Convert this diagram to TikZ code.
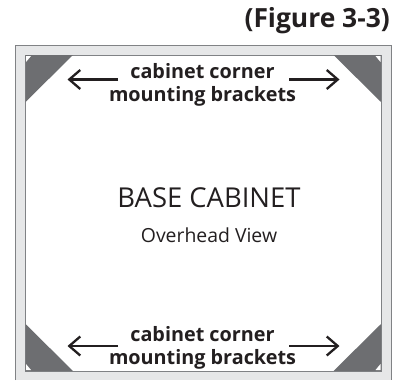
\documentclass[tikz,border=0pt]{standalone}
\usepackage{fontspec}
\setmainfont{Open Sans}
\usetikzlibrary{arrows.meta}
\definecolor{bandgray}{HTML}{E6E7E8}
\definecolor{edgegray}{HTML}{808285}
\definecolor{bracketgray}{HTML}{6D6E71}
\definecolor{inkblack}{HTML}{231F20}
\tikzset{
  x=1pt,y=-1pt,
  bracket/.style={fill=bracketgray,draw=none},
  notch/.style={fill=white,draw=none},
  pointer/.style={draw=inkblack,line width=2.3pt,-{Straight Barb[length=11pt,width=19pt,line width=2.3pt]}},
  lbl/.style={text=inkblack,font=\fontsize{19.8}{22.7}\selectfont\bfseries,align=center,inner sep=0pt},
}
\begin{document}
\begin{tikzpicture}
\useasboundingbox (0,0) rectangle (406,380);
\fill[white] (0,0) rectangle (406,380);
\fill[bandgray] (15.5,45.5) rectangle (391,380);
\draw[edgegray,line width=1pt] (15.5,380) -- (15.5,45.5) -- (391,45.5) -- (391,380);
\fill[white] (25.5,55) rectangle (381,371);
\draw[edgegray,line width=.7pt] (25.5,371) -- (25.5,55) -- (381,55) -- (381,371) -- cycle;
\fill[bracket] (25.5,55) -- (73,55) -- (25.5,102) -- cycle;
\fill[bracket] (381,55) -- (333.5,55) -- (381,102) -- cycle;
\fill[bracket] (25.5,371) -- (73,371) -- (25.5,324) -- cycle;
\fill[bracket] (381,371) -- (333.5,371) -- (381,324) -- cycle;
\fill[notch] (26,56) -- (31,56) -- (26,62) -- cycle;
\fill[notch] (380.5,56) -- (375.5,56) -- (380.5,62) -- cycle;
\fill[notch] (26,370) -- (31,370) -- (26,364) -- cycle;
\fill[notch] (380.5,370) -- (375.5,370) -- (380.5,364) -- cycle;
\node[text=inkblack,font=\fontsize{26.4}{30}\selectfont\bfseries,anchor=base east,inner sep=0pt] (fig) at (390,27) {(Figure 3-3)};
\node[lbl] (top) at (202.5,85) {cabinet corner\\mounting brackets};
\node[lbl] (bot) at (202.5,348) {cabinet corner\\mounting brackets};
\node[text=inkblack,font=\fontsize{27.4}{32}\selectfont,anchor=base,inner sep=0pt] (base) at (209,207) {BASE CABINET};
\node[text=inkblack,font=\fontsize{19.4}{23}\selectfont,anchor=base,inner sep=0pt] (view) at (209,242) {Overhead View};
\coordinate (tl1) at (118,79.5); \coordinate (tl2) at (67.5,79.5);
\coordinate (tr1) at (289,79.5); \coordinate (tr2) at (339.5,79.5);
\coordinate (bl1) at (118,346); \coordinate (bl2) at (67.5,346);
\coordinate (br1) at (289,346); \coordinate (br2) at (339.5,346);
\draw[pointer] (tl1) -- (tl2);
\draw[pointer] (tr1) -- (tr2);
\draw[pointer] (bl1) -- (bl2);
\draw[pointer] (br1) -- (br2);
\end{tikzpicture}
\end{document}
